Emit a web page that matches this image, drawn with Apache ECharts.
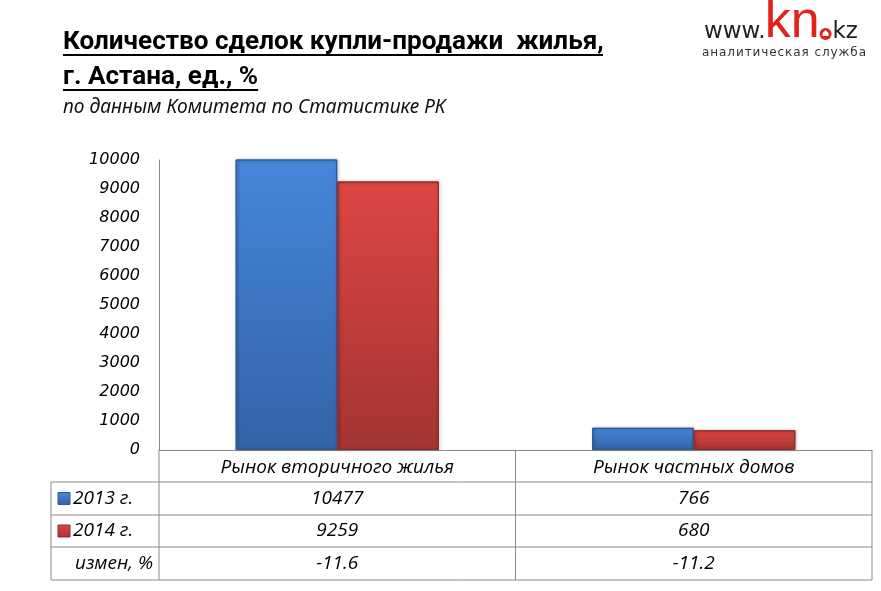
<!DOCTYPE html>
<html><head><meta charset="utf-8">
<script src="https://cdn.jsdelivr.net/npm/echarts@6/dist/echarts.min.js"></script>
<style>html,body{margin:0;padding:0;background:#fff}#c{width:881px;height:591px}</style>
</head><body><div id="c"></div>
<script>
const titleLine1 = 'Количество сделок купли-продажи  жилья,';
const titleLine2 = 'г. Астана, ед., %';
const subtitle = 'по данным Комитета по Статистике РК';
const categories = ['Рынок вторичного жилья', 'Рынок частных домов'];
const seriesNames = ['2013 г.', '2014 г.'];
const values2013 = [10477, 766];
const values2014 = [9259, 680];
const changeLabel = 'измен, %';
const changePct = ['-11.6', '-11.2'];
const yMin = 0, yMax = 10000, yStep = 1000;

const chart = echarts.init(document.getElementById('c'), null, {renderer: 'canvas'});
const tableFont = '"Open Sans", sans-serif';
const lineColor = '#8a8a8a';

function grad(top, bottom) {
  return new echarts.graphic.LinearGradient(0, 0, 0, 1, [{offset: 0, color: top}, {offset: 1, color: bottom}]);
}
const blue = ['#4587da', '#3463a7', '#2f5a98'];
const red = ['#dd4643', '#a33432', '#8f2c2a'];

const cvs = document.createElement('canvas').getContext('2d');
function measure(text, font) { cvs.font = font; return cvs.measureText(text).width; }

chart.setOption({
  animation: false,
  grid: {left: 159, right: 9, top: 160, bottom: 141, containLabel: false},
  xAxis: {
    type: 'category', data: categories,
    axisLine: {lineStyle: {color: lineColor, width: 1}},
    axisTick: {show: false},
    axisLabel: {fontFamily: tableFont, fontStyle: 'italic', fontSize: 19, color: '#000', margin: 8}
  },
  yAxis: {
    type: 'value', min: yMin, max: yMax, interval: yStep,
    axisLine: {show: true, lineStyle: {color: lineColor, width: 1}},
    axisTick: {show: false}, splitLine: {show: false},
    axisLabel: {fontFamily: '"DejaVu Sans", sans-serif', fontStyle: 'italic', fontSize: 16, color: '#000', margin: 19,
      formatter: v => String(v)}
  },
  series: [
    {type: 'bar', name: seriesNames[0], data: values2013, barGap: '0%', barCategoryGap: '43%', clip: true,
     itemStyle: {color: grad(blue[0], blue[1]), borderColor: blue[2], borderWidth: 1, shadowBlur: 3, shadowColor: 'rgba(0,0,0,0.35)', shadowOffsetX: 1}},
    {type: 'bar', name: seriesNames[1], data: values2014, barGap: '0%', barCategoryGap: '43%', clip: true,
     itemStyle: {color: grad(red[0], red[1]), borderColor: red[2], borderWidth: 1, shadowBlur: 3, shadowColor: 'rgba(0,0,0,0.35)', shadowOffsetX: 1}}
  ]
});

// --- table & titles via graphic ---
const centers = categories.map(c => chart.convertToPixel({xAxisIndex: 0}, c));
const gLeft = 159, gRight = 872, tLeft = 51;
const mid = (centers[0] + centers[1]) / 2;
const rows = [450, 482, 515, 547, 580];
const g = [];
function line(x1, y1, x2, y2) {
  g.push({type: 'line', shape: {x1, y1, x2, y2}, style: {stroke: lineColor, lineWidth: 1}, z: 10});
}
[gLeft, mid, gRight].forEach(x => line(x, rows[0], x, rows[4]));
line(tLeft, rows[1], tLeft, rows[4]);
for (let i = 1; i < rows.length; i++) line(tLeft, rows[i], gRight, rows[i]);

function txt(text, x, y, align, font, size, extra) {
  g.push(Object.assign({type: 'text', x, y, style: Object.assign({text, fill: '#000', font: (font.style || '') + ' ' + (font.weight || '') + ' ' + size + 'px ' + font.family, align, verticalAlign: 'middle'}, extra || {}), z: 10}));
}
const tf = {style: 'italic', family: tableFont};
const rowVals = [values2013.map(String), values2014.map(String), changePct];
for (let r = 0; r < 3; r++) {
  const cy = (rows[r + 1] + rows[r + 2]) / 2;
  rowVals[r].forEach((v, i) => txt(v, centers[i], cy, 'center', tf, 19));
}
const markerCols = [blue, red];
for (let r = 0; r < 2; r++) {
  const cy = (rows[r + 1] + rows[r + 2]) / 2;
  g.push({type: 'rect', shape: {x: 58, y: cy - 6, width: 12, height: 12}, style: {fill: grad(markerCols[r][0], markerCols[r][1]), stroke: markerCols[r][2], lineWidth: 1}, z: 10});
  txt(seriesNames[r], 73, cy, 'left', tf, 19);
}
txt(changeLabel, 153, (rows[3] + rows[4]) / 2, 'right', tf, 19);

// titles
const tFam = 'Roboto, "Noto Sans", sans-serif';
let ts = 24;
const w1 = measure(titleLine1, 'bold ' + ts + 'px ' + tFam);
ts = ts * 540 / w1;
const tfont = {weight: 'bold', family: tFam};
txt(titleLine1, 63, 42, 'left', tfont, ts.toFixed(1));
txt(titleLine2, 63, 77, 'left', tfont, ts.toFixed(1));
const w2 = measure(titleLine2, 'bold ' + ts.toFixed(1) + 'px ' + tFam);
g.push({type: 'line', shape: {x1: 63, y1: 55, x2: 603, y2: 55}, style: {stroke: '#000', lineWidth: 2}});
g.push({type: 'line', shape: {x1: 63, y1: 90, x2: 63 + w2, y2: 90}, style: {stroke: '#000', lineWidth: 2}});
const sFam = '"Noto Sans", sans-serif';
let ss = 16;
ss = ss * 382 / measure(subtitle, 'italic ' + ss + 'px ' + sFam);
txt(subtitle, 63, 108, 'left', {style: 'italic', family: sFam}, ss.toFixed(1), {fill: '#111'});

// logo
const wwwFont = '23px "DejaVu Sans"';
const knFont = '52px "Liberation Sans"';
const kzFont = '23px "DejaVu Sans"';
const base = 39;
let lx = 704;
g.push({type: 'text', x: lx, y: base + 5, style: {text: 'www.', font: wwwFont, fill: '#222', verticalAlign: 'bottom'}});
lx += measure('www.', wwwFont);
g.push({type: 'text', x: lx - 1, y: base + 10, style: {text: 'kn', font: knFont, fill: '#e2231a', verticalAlign: 'bottom'}});
lx += measure('kn', knFont) - 1;
g.push({type: 'circle', shape: {cx: lx + 6, cy: base - 5, r: 6}, style: {fill: '#e2231a'}});
g.push({type: 'polygon', shape: {points: [[lx + 3, base - 3], [lx + 3, base - 6], [lx + 6, base - 9], [lx + 9, base - 6], [lx + 9, base - 3]]}, style: {fill: '#fff'}});
lx += 13;
g.push({type: 'text', x: lx, y: base + 5, style: {text: 'kz', font: kzFont, fill: '#222', verticalAlign: 'bottom'}});
const sub = 'аналитическая служба';
const subFont = '12px "DejaVu Sans"';
let sx = 702;
const totalW = measure(sub, subFont);
const spacing = (164 - totalW) / (sub.length - 1);
for (const ch of sub) {
  g.push({type: 'text', x: sx, y: 53, style: {text: ch, font: subFont, fill: '#333', verticalAlign: 'middle'}});
  sx += measure(ch, subFont) + spacing;
}

chart.setOption({graphic: {elements: g}});
</script></body></html>
